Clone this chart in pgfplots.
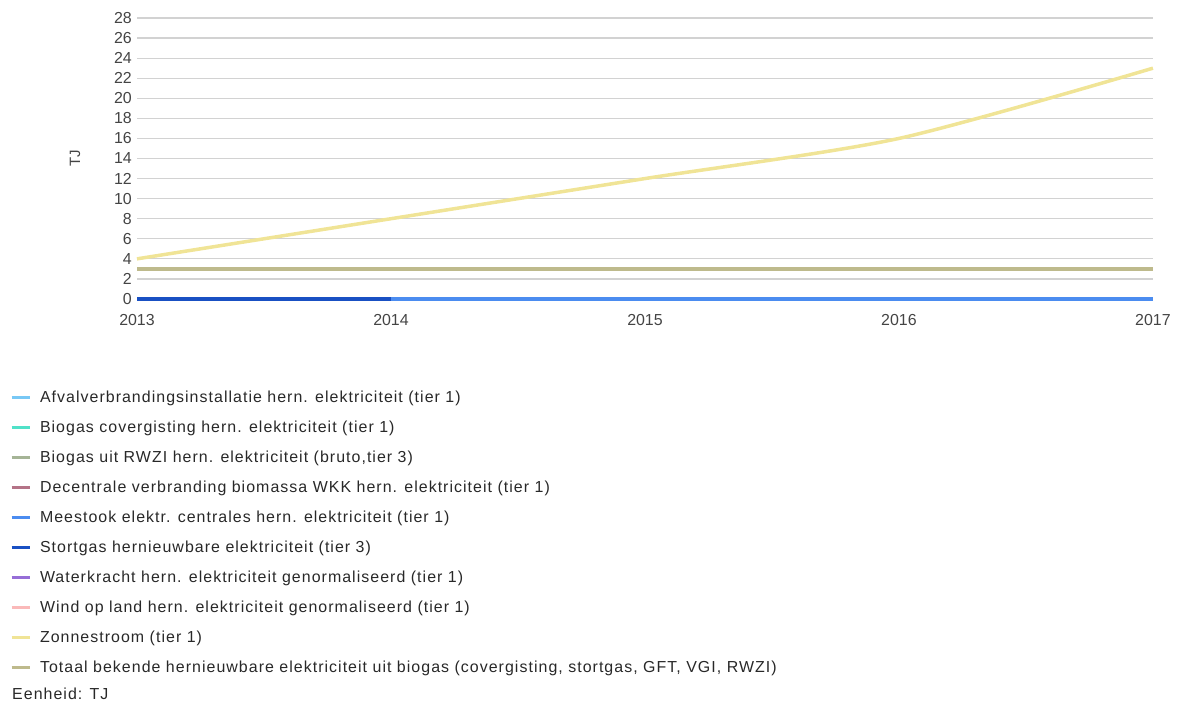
\documentclass[border=0pt]{standalone}
\usepackage{fontspec}
\setmainfont{Liberation Sans}
\newfontfamily\legfont[LetterSpace=6.5]{Liberation Sans}
\usepackage{pgfplots}
\pgfplotsset{compat=1.18}
\definecolor{cAfval}{RGB}{120,200,245}
\definecolor{cCover}{RGB}{80,225,200}
\definecolor{cRWZI}{RGB}{165,180,150}
\definecolor{cDecent}{RGB}{180,115,135}
\definecolor{cMeestook}{RGB}{75,140,240}
\definecolor{cStort}{RGB}{25,80,195}
\definecolor{cWater}{RGB}{150,110,215}
\definecolor{cWind}{RGB}{250,185,185}
\definecolor{cZon}{RGB}{240,228,150}
\definecolor{cTotaal}{RGB}{190,186,140}
\definecolor{ticktxt}{RGB}{68,68,68}
\definecolor{legtxt}{RGB}{40,40,40}
\definecolor{gridc}{RGB}{210,210,210}
\begin{document}
\begin{tikzpicture}
\useasboundingbox (0,0) rectangle (1178bp,707bp);
\begin{axis}[
  at={(137bp,408bp)}, anchor=south west,
  scale only axis, width=1016bp, height=281bp,
  xmin=2013, xmax=2017, ymin=0, ymax=28,
  xtick={2013,2014,2015,2016,2017},
  ytick={0,2,...,28},
  axis line style={draw=none},
  major tick length=0pt,
  ymajorgrids, grid style={gridc, line width=1.2bp},
  /pgf/number format/assume math mode=true,
  /pgf/number format/set thousands separator={},
  tick label style={font=\fontsize{16}{18}\selectfont, text=ticktxt, inner sep=0pt},
  yticklabel style={anchor=east, xshift=-5bp},
  xticklabel style={anchor=north, yshift=-15bp},
  ylabel={TJ},
  ylabel style={at={(axis description cs:-0.061,0.5)}, anchor=center, font=\fontsize{15}{18}\selectfont, text=ticktxt},
  clip=false,
  legend cell align=left,
  legend style={at={(axis description cs:-0.1250,-0.3274)}, anchor=north west,
    draw=none, fill=none, inner sep=0pt, outer sep=0pt,
    font=\legfont\fontsize{16}{18}\selectfont, text=legtxt,
    row sep=16bp,
    nodes={inner sep=0pt, text height=11bp, text depth=3bp},
    /tikz/every odd column/.append style={column sep=9bp}},
  legend image code/.code={\draw[#1, line width=3bp] (0bp,1bp) -- (18bp,1bp);},
]
\addlegendimage{cAfval}
\addlegendentry{Afvalverbrandingsinstallatie hern. elektriciteit (tier 1)}
\addlegendimage{cCover}
\addlegendentry{Biogas covergisting hern. elektriciteit (tier 1)}
\addplot[cRWZI, line width=4.5bp] coordinates {(2013,3) (2014,3) (2015,3) (2016,3) (2017,3)};
\addlegendentry{Biogas uit RWZI hern. elektriciteit (bruto,tier 3)}
\addlegendimage{cDecent}
\addlegendentry{Decentrale verbranding biomassa WKK hern. elektriciteit (tier 1)}
\addplot[cMeestook, line width=3bp] coordinates {(2014,0) (2015,0) (2016,0) (2017,0)};
\addlegendentry{Meestook elektr. centrales hern. elektriciteit (tier 1)}
\addplot[cStort, line width=3bp] coordinates {(2013,0) (2014,0)};
\addlegendentry{Stortgas hernieuwbare elektriciteit (tier 3)}
\addlegendimage{cWater}
\addlegendentry{Waterkracht hern. elektriciteit genormaliseerd (tier 1)}
\addlegendimage{cWind}
\addlegendentry{Wind op land hern. elektriciteit genormaliseerd (tier 1)}
\addplot[cZon, line width=3.5bp, smooth, tension=0.45] coordinates {(2013,4) (2014,8) (2015,12) (2016,16) (2017,23)};
\addlegendentry{Zonnestroom (tier 1)}
\addplot[cTotaal, line width=4.5bp] coordinates {(2013,3) (2014,3) (2015,3) (2016,3) (2017,3)};
\addlegendentry{Totaal bekende hernieuwbare elektriciteit uit biogas (covergisting, stortgas, GFT, VGI, RWZI)}
\end{axis}
\node[anchor=base west, inner sep=0pt, font=\legfont\fontsize{16}{18}\selectfont, text=legtxt] at (12bp,8bp) {Eenheid: TJ};
\end{tikzpicture}
\end{document}
